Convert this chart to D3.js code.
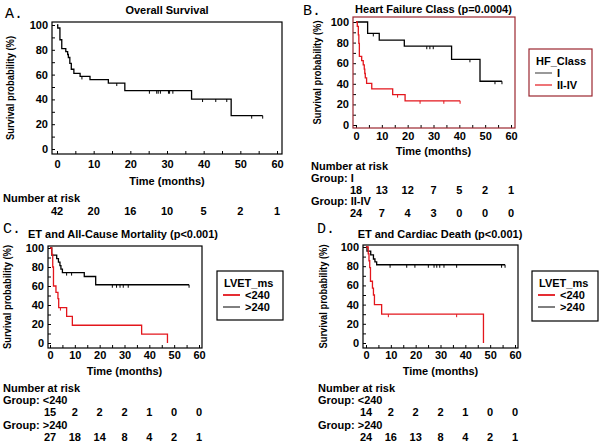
<!DOCTYPE html>
<html>
<head>
<meta charset="utf-8">
<script src="https://cdn.jsdelivr.net/npm/d3@7"></script>
<style>
  body { margin: 0; background: #fff; }
  text { font-family: "Liberation Sans", Arial, sans-serif; font-weight: bold; font-size: 11px; fill: #000; }
  .letter { font-family: "Liberation Mono", "Courier New", monospace; font-weight: normal; font-size: 15px; }
  .ylab { font-size: 11px; }
</style>
</head>
<body>
<script>
// ---- data ----
var timeTicks = [0, 10, 20, 30, 40, 50, 60];
var riskTimes = [0, 10, 20, 30, 40, 50, 60];

// A. overall survival: [month, survival %]
var overallSteps = [[0,100],[0.2,97.6],[0.8,88.1],[1.3,81.0],[2.4,78.6],[2.9,76.2],[3.1,73.8],[3.5,69.0],[3.9,64.3],[4.6,61.0],[6.3,58.5],[9.0,55.9],[14.0,53.2],[18.5,47.0],[36.7,40.3],[47.5,26.9]];
var overallEnd = 56.1;
var overallCensor = [6.8, 16.3, 25.2, 27.2, 27.6, 28.2, 30.4, 30.7, 31.6, 39.7, 43.3, 46.3, 53.1, 56.1];
var riskAll = [42, 20, 16, 10, 5, 2, 1];

// B. heart failure class
var hfISteps = [[0,100],[4.5,88.9],[9.0,82.5],[18.7,76.5],[37.0,63.8],[48.0,42.5]];
var hfIEnd = 56.5;
var hfICensor = [6.7, 27.4, 28.6, 29.9, 44.1, 53.8, 56.5];
var hfIISteps = [[0,100],[0.5,95.8],[0.9,87.5],[1.1,79.2],[1.3,66.7],[2.2,62.5],[2.8,58.3],[3.2,54.2],[3.4,50.0],[3.6,45.8],[4.1,40.5],[6.1,35.0],[14.2,29.5],[19.0,23.5]];
var hfIIEnd = 40.3;
var hfIICensor = [16.1, 24.8, 34.0, 40.3];
var riskHfI = [18, 13, 12, 7, 5, 2, 1];
var riskHfII = [24, 7, 4, 3, 0, 0, 0];

// C. ET and all-cause mortality
var cLowSteps = [[0,100],[0.7,93.3],[1.1,80.0],[1.4,60.0],[2.4,53.3],[3.2,46.7],[3.5,37.3],[6.7,28.0],[9.0,18.7],[36.9,9.3],[47.3,0]];
var cLowEnd = 47.3;
var cLowCensor = [4.2];
var cHighSteps = [[0,100],[0.7,92.6],[2.7,88.9],[3.4,85.2],[4.0,81.5],[4.4,77.8],[5.0,74.1],[13.8,70.0],[18.4,61.3]];
var cHighEnd = 56;
var cHighCensor = [6.7, 8.7, 25.1, 26.8, 28.2, 29.5, 31.5, 56];
var riskCLow = [15, 2, 2, 2, 1, 0, 0];
var riskCHigh = [27, 18, 14, 8, 4, 2, 1];

// D. ET and cardiac death
var dLowSteps = [[0,100],[0.9,92.9],[1.2,85.7],[1.5,78.6],[1.8,64.3],[2.6,57.1],[3.0,50.0],[3.4,40.0],[6.3,30.0],[47.3,0]];
var dLowEnd = 47.3;
var dLowCensor = [9.0, 36.5];
var dHighSteps = [[0,100],[0.4,95.8],[1.9,91.7],[3.0,87.5],[3.6,84.5],[4.3,81.5]];
var dHighEnd = 56;
var dHighCensor = [9.7, 16.4, 19.7, 25.1, 27.4, 28.5, 29.7, 31.4, 36.5, 54.6, 56];
var riskDLow = [14, 2, 2, 2, 1, 0, 0];
var riskDHigh = [24, 16, 13, 8, 4, 2, 1];

var RED = "#e3161c", FRAME_RED = "#9b2730";

var svg = d3.select("body").append("svg").attr("width", 600).attr("height", 444);

function survAt(steps, t) {
    var s = steps[0][1];
    steps.forEach(function (d) { if (d[0] <= t) s = d[1]; });
    return s;
}

function drawPanel(p) {
    var x = d3.scaleLinear().domain([0, 60]).range([p.x0, p.x60]);
    var y = d3.scaleLinear().domain([0, 100]).range([p.y0, p.y100]);
    var g = svg.append("g");
    var f = p.frame; // left, right, top, bottom

    // axes: ticks point inwards
    var xa = g.append("g").attr("transform", "translate(0," + f[3] + ")")
        .call(d3.axisBottom(x).tickValues(d3.range(0, 61, 5)).tickSize(-3).tickPadding(p.xPad)
            .tickFormat(function (d) { return d % 10 === 0 ? d : ""; }));
    var ya = g.append("g").attr("transform", "translate(" + f[0] + ",0)")
        .call(d3.axisLeft(y).tickValues(d3.range(0, 101, 10)).tickSize(-3).tickPadding(4)
            .tickFormat(function (d) { return d % 20 === 0 ? d : ""; }));
    [xa, ya].forEach(function (a) {
        a.select(".domain").remove();
        a.selectAll("line").attr("stroke", "#000");
        a.selectAll("text").attr("font-size", null).attr("font-family", null).attr("fill", null);
        a.attr("font-size", null).attr("font-family", null);
    });

    g.append("rect").attr("x", f[0]).attr("y", f[2])
        .attr("width", f[1] - f[0]).attr("height", f[3] - f[2])
        .attr("fill", "none").attr("stroke", p.frameColor || "#000").attr("stroke-width", 1.2);

    var line = d3.line().x(function (d) { return x(d[0]); }).y(function (d) { return y(d[1]); })
        .curve(d3.curveStepAfter);

    p.series.forEach(function (s) {
        var pts = s.steps.concat([[s.end, s.steps[s.steps.length - 1][1]]]);
        g.append("path").attr("d", line(pts)).attr("fill", "none")
            .attr("stroke", s.color).attr("stroke-width", 1.3);
        g.selectAll(null).data(s.censor).enter().append("line")
            .attr("x1", function (d) { return x(d); }).attr("x2", function (d) { return x(d); })
            .attr("y1", function (d) { return y(survAt(s.steps, d)); })
            .attr("y2", function (d) { return y(survAt(s.steps, d)) + 3; })
            .attr("stroke", s.color).attr("stroke-width", 1);
    });

    var cx = (p.x0 + p.x60) / 2;
    g.append("text").attr("x", p.titleX || cx).attr("y", p.titleY).attr("text-anchor", "middle").text(p.title);
    g.append("text").attr("class", "letter").attr("x", p.letter[1]).attr("y", p.letter[2]).text(p.letter[0]);
    g.append("text").attr("x", cx).attr("y", p.timeY).attr("text-anchor", "middle").text("Time (months)");
    // the y title is squeezed in the reference
    g.append("text").attr("class", "ylab").attr("text-anchor", "middle")
        .attr("transform", "translate(" + p.ylabX + "," + ((f[2] + f[3]) / 2) + ") rotate(-90)")
        .attr("textLength", 104).attr("lengthAdjust", "spacingAndGlyphs")
        .text("Survival probability (%)");

    // number at risk table
    g.append("text").attr("x", p.riskX).attr("y", p.riskY).text("Number at risk");
    p.risk.forEach(function (r) {
        if (r.label) g.append("text").attr("x", p.riskX).attr("y", r.labelY).text(r.label);
        g.selectAll(null).data(r.values).enter().append("text")
            .attr("x", function (d, i) { return x(riskTimes[i]); })
            .attr("y", r.rowY).attr("text-anchor", "middle")
            .text(function (d) { return d; });
    });

    // legend
    if (p.legend) {
        var L = p.legend;
        g.append("rect").attr("x", L.box[0]).attr("y", L.box[1]).attr("width", L.box[2]).attr("height", L.box[3])
            .attr("fill", "none").attr("stroke", L.color).attr("stroke-width", 1.2);
        g.append("text").attr("x", L.box[0] + 7).attr("y", L.box[1] + 16).text(L.title);
        L.items.forEach(function (it, i) {
            var yy = L.box[1] + 24 + i * 12;
            g.append("line").attr("x1", L.box[0] + 6).attr("x2", L.box[0] + 23)
                .attr("y1", yy).attr("y2", yy).attr("stroke", it.color).attr("stroke-width", it.w);
            g.append("text").attr("x", L.box[0] + 28).attr("y", yy + 4).text(it.name);
        });
    }
}

drawPanel({
    x0: 57, x60: 277, y0: 149, y100: 25, frame: [52, 282, 22, 154], xPad: 6,
    title: "Overall Survival", titleY: 14, letter: ["A.", 5, 18], timeY: 185, ylabX: 14,
    riskX: 3, riskY: 202,
    risk: [{ values: riskAll, rowY: 215 }],
    series: [{ steps: overallSteps, end: overallEnd, censor: overallCensor, color: "#000" }]
});

drawPanel({
    x0: 356, x60: 511, y0: 125, y100: 22, frame: [353, 515, 17, 128], xPad: 4, frameColor: FRAME_RED,
    title: "Heart Failure Class (p=0.0004)", titleY: 13, letter: ["B.", 303, 15], timeY: 155, ylabX: 321,
    riskX: 311, riskY: 170,
    risk: [{ label: "Group: I", labelY: 182, values: riskHfI, rowY: 194 },
           { label: "Group: II-IV", labelY: 205, values: riskHfII, rowY: 217 }],
    series: [{ steps: hfISteps, end: hfIEnd, censor: hfICensor, color: "#000" },
             { steps: hfIISteps, end: hfIIEnd, censor: hfIICensor, color: RED }],
    legend: { box: [529, 49, 63, 47], color: FRAME_RED, title: "HF_Class",
              items: [{ name: "I", color: "#555", w: 1.2 }, { name: "II-IV", color: RED, w: 1.2 }] }
});

drawPanel({
    x0: 50, x60: 199, y0: 343, y100: 248, frame: [48, 202, 246, 348], xPad: 3,
    title: "ET and All-Cause Mortality (p<0.001)", titleX: 123, titleY: 238, letter: ["C.", 3, 233], timeY: 375, ylabX: 11,
    riskX: 3, riskY: 392,
    risk: [{ label: "Group: <240", labelY: 404, values: riskCLow, rowY: 416 },
           { label: "Group: >240", labelY: 429, values: riskCHigh, rowY: 441 }],
    series: [{ steps: cHighSteps, end: cHighEnd, censor: cHighCensor, color: "#000" },
             { steps: cLowSteps, end: cLowEnd, censor: cLowCensor, color: RED }],
    legend: { box: [217, 271, 66, 49], color: "#000", title: "LVET_ms",
              items: [{ name: "<240", color: RED, w: 1.8 }, { name: ">240", color: "#000", w: 1 }] }
});

drawPanel({
    x0: 366, x60: 515, y0: 343, y100: 247, frame: [363, 518, 245, 348], xPad: 3,
    title: "ET and Cardiac Death (p<0.001)", titleX: 440, titleY: 238, letter: ["D.", 317, 233], timeY: 375, ylabX: 327,
    riskX: 318, riskY: 392,
    risk: [{ label: "Group: <240", labelY: 404, values: riskDLow, rowY: 416 },
           { label: "Group: >240", labelY: 429, values: riskDHigh, rowY: 441 }],
    series: [{ steps: dHighSteps, end: dHighEnd, censor: dHighCensor, color: "#000" },
             { steps: dLowSteps, end: dLowEnd, censor: dLowCensor, color: RED }],
    legend: { box: [532, 271, 66, 50], color: "#000", title: "LVET_ms",
              items: [{ name: "<240", color: RED, w: 1.8 }, { name: ">240", color: "#000", w: 1 }] }
});
</script>
</body>
</html>
